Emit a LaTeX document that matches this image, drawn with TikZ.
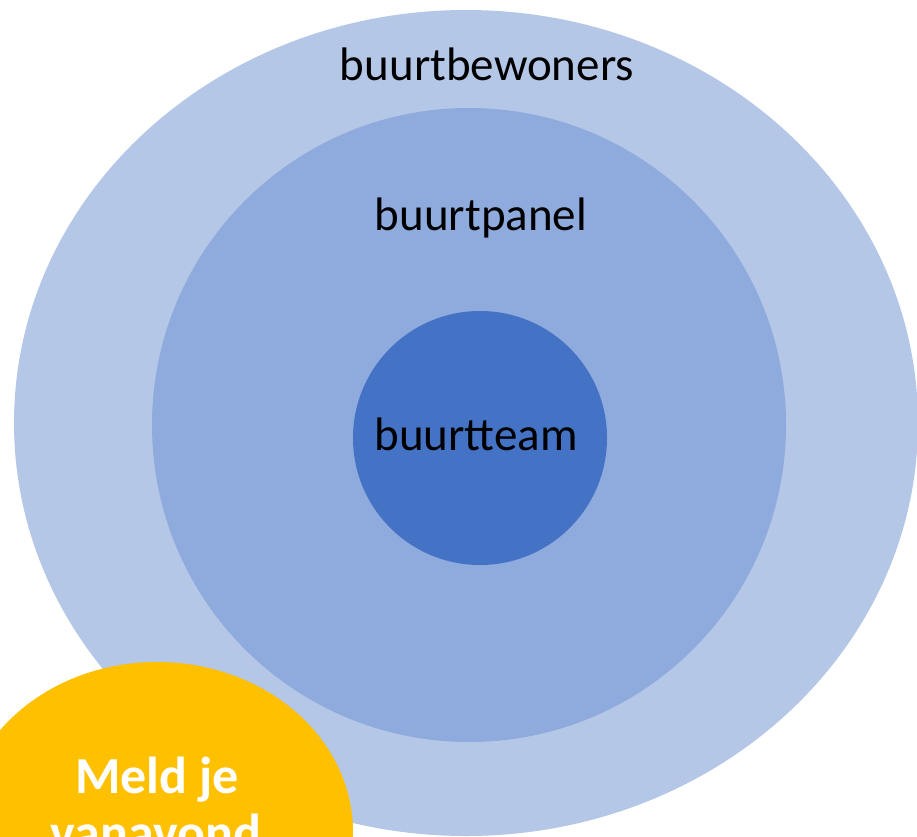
\documentclass[tikz,border=0pt]{standalone}
\usepackage{fontspec}
\setmainfont{Carlito}
\definecolor{outerc}{HTML}{B4C7E7}
\definecolor{midc}{HTML}{8FAADC}
\definecolor{innerc}{HTML}{4472C4}
\definecolor{yellowc}{HTML}{FFC000}
\tikzset{
  lbl/.style={anchor=base, inner sep=0pt, text=black, font=\fontsize{47}{56}\selectfont},
  mlbl/.style={anchor=base, inner sep=0pt, text=white, font=\fontsize{52}{60}\selectfont\bfseries}
}
\begin{document}
\begin{tikzpicture}[x=1pt,y=-1pt]
\useasboundingbox (0,0) rectangle (917,836);
\clip (0,0) rectangle (917,836);
\fill[outerc] (466,423) ellipse [x radius=452pt, y radius=413pt];
\fill[midc] (469,425) ellipse [x radius=317pt, y radius=317pt];
\fill[innerc] (480,438) ellipse [x radius=127pt, y radius=127pt];
\fill[yellowc] (157,832) ellipse [x radius=196pt, y radius=170pt];
\node[lbl] (bewoners) at (487,80) {buurtbewoners};
\node[lbl] (panel) at (481,230) {buurtpanel};
\node[lbl] (team) at (476,450) {buurtteam};
\node[mlbl] (meld) at (157,793) {Meld je};
\node[mlbl] (vanavond) at (156,850) {vanavond};
\end{tikzpicture}
\end{document}
